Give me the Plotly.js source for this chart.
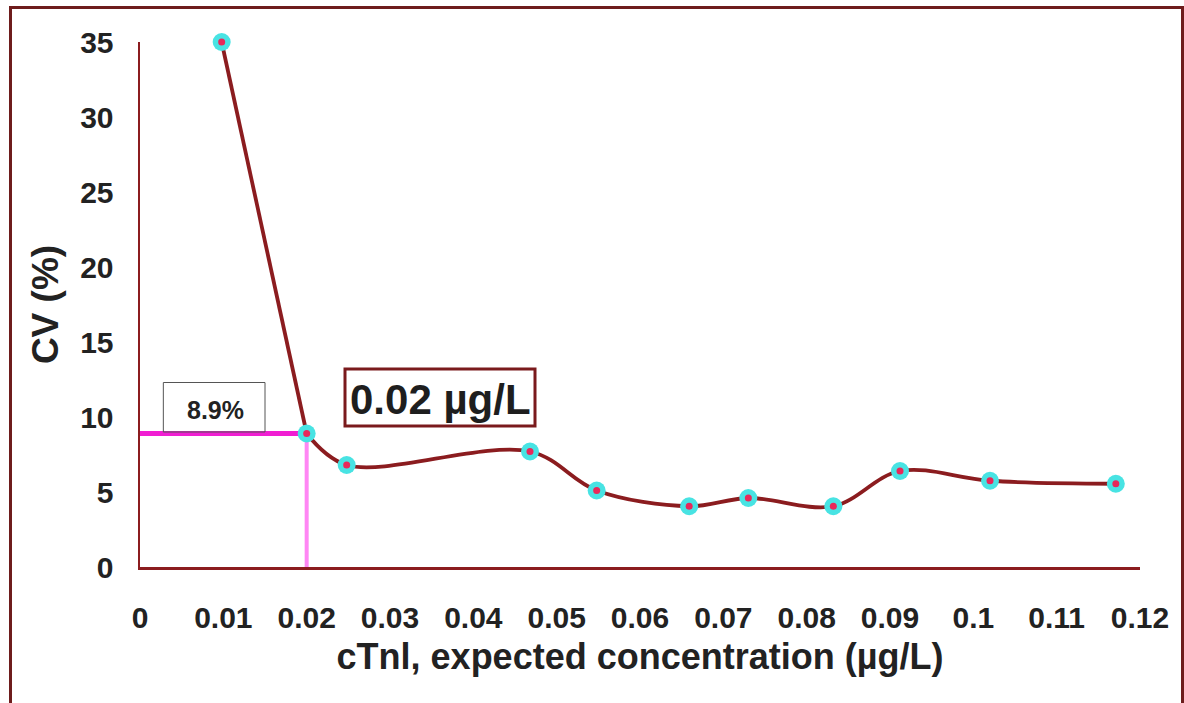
<!DOCTYPE html>
<html>
<head>
<meta charset="utf-8">
<script src="https://cdn.plot.ly/plotly-3.0.1.min.js"></script>
<style>
  html, body { margin: 0; padding: 0; background: #ffffff; overflow: hidden; }
  #wrap { position: relative; width: 1184px; height: 703px; }
  #chart { position: absolute; left: 0; top: 0; width: 1184px; height: 703px; }
  #frame { position: absolute; left: 9px; top: 6px; width: 1169px; height: 720px;
           border: 3px solid #6e1c1c; border-bottom: none; pointer-events: none; }
</style>
</head>
<body>
<div id="wrap">
  <div id="chart"></div>
  <div id="frame"></div>
</div>
<script>
// Expected cTnI concentration (µg/L)
const concentration = [0.0098, 0.0200, 0.0248, 0.0468, 0.0548, 0.0659, 0.0730, 0.0832, 0.0912, 0.1020, 0.1171];
// Coefficient of variation (%)
const cvPercent = [35.0, 8.9, 6.8, 7.7, 5.1, 4.05, 4.6, 4.05, 6.4, 5.75, 5.55];

const xTickVals = [0, 0.01, 0.02, 0.03, 0.04, 0.05, 0.06, 0.07, 0.08, 0.09, 0.1, 0.11, 0.12];
const xTickText = ['0', '0.01', '0.02', '0.03', '0.04', '0.05', '0.06', '0.07', '0.08', '0.09', '0.1', '0.11', '0.12'];
const yTickVals = [0, 5, 10, 15, 20, 25, 30, 35];

const cutoffX = 0.02;
const cutoffCV = 8.9;

const font = 'Liberation Sans, Arial, Helvetica, sans-serif';
const darkRed = '#8b1c1f';

const traces = [
  // steep first segment (drawn straight, as in the original)
  {
    x: concentration.slice(0, 2), y: cvPercent.slice(0, 2), type: 'scatter', mode: 'lines',
    line: { color: darkRed, width: 3.8 }, cliponaxis: false, hoverinfo: 'skip'
  },
  // smoothed remainder
  {
    x: concentration.slice(1), y: cvPercent.slice(1), type: 'scatter', mode: 'lines',
    line: { color: darkRed, width: 3.8, shape: 'spline', smoothing: 1 }, cliponaxis: false, hoverinfo: 'skip'
  },
  {
    x: concentration, y: cvPercent, type: 'scatter', mode: 'markers',
    marker: { color: '#48e3e3', size: 18, line: { width: 0 } }, cliponaxis: false,
    hoverinfo: 'x+y'
  },
  {
    x: concentration, y: cvPercent, type: 'scatter', mode: 'markers',
    marker: { color: '#e8285a', size: 7, line: { width: 0 } }, cliponaxis: false,
    hoverinfo: 'skip'
  }
];

const layout = {
  width: 1184, height: 703,
  margin: { l: 140, r: 44, t: 42, b: 136 },
  paper_bgcolor: '#ffffff', plot_bgcolor: '#ffffff',
  showlegend: false,
  font: { family: font, color: '#222222' },
  xaxis: {
    range: [0, 0.12], showgrid: false, zeroline: false,
    showline: true, linecolor: darkRed, linewidth: 2.5,
    tickmode: 'array', tickvals: xTickVals, ticktext: xTickText,
    ticks: 'outside', ticklen: 22, tickcolor: 'rgba(0,0,0,0)',
    tickfont: { family: font, size: 30, color: '#222222', weight: 'bold' },
    title: { text: '<b>cTnl, expected concentration (µg/L)</b>', font: { family: font, size: 36, color: '#222222' }, standoff: 12 }
  },
  yaxis: {
    range: [0, 35], showgrid: false, zeroline: false,
    showline: true, linecolor: darkRed, linewidth: 2.5,
    tickmode: 'array', tickvals: yTickVals,
    ticks: 'outside', ticklen: 18, tickcolor: 'rgba(0,0,0,0)',
    tickfont: { family: font, size: 30, color: '#222222', weight: 'bold' },
    title: { text: '<b>CV (%)</b>', font: { family: font, size: 37, color: '#222222' }, standoff: 10 }
  },
  shapes: [
    { type: 'line', xref: 'x', yref: 'y', x0: 0, x1: cutoffX, y0: cutoffCV, y1: cutoffCV,
      line: { color: '#f01ed2', width: 5 }, layer: 'below' },
    { type: 'line', xref: 'x', yref: 'y', x0: cutoffX, x1: cutoffX, y0: 0, y1: cutoffCV,
      line: { color: '#ff86f4', width: 4 }, layer: 'below' },
    { type: 'rect', xref: 'x', yref: 'y', x0: 0.0028, x1: 0.0150, y0: 9.0, y1: 12.3,
      line: { color: '#555555', width: 1 }, fillcolor: 'rgba(0,0,0,0)', layer: 'below' },
    { type: 'rect', xref: 'x', yref: 'y', x0: 0.0246, x1: 0.0474, y0: 9.4, y1: 13.2,
      line: { color: '#7a1a1c', width: 3 }, fillcolor: 'rgba(0,0,0,0)', layer: 'above' }
  ],
  annotations: [
    { xref: 'x', yref: 'y', x: 0.0090, y: 10.45, text: '<b>8.9%</b>', showarrow: false,
      font: { family: font, size: 25, color: '#222222' } },
    { xref: 'x', yref: 'y', x: 0.0360, y: 11.2, text: '<b>0.02 µg/L</b>', showarrow: false,
      font: { family: font, size: 42, color: '#1e1e1e' } }
  ]
};

Plotly.newPlot('chart', traces, layout, { displayModeBar: false, staticPlot: true });
</script>
</body>
</html>
